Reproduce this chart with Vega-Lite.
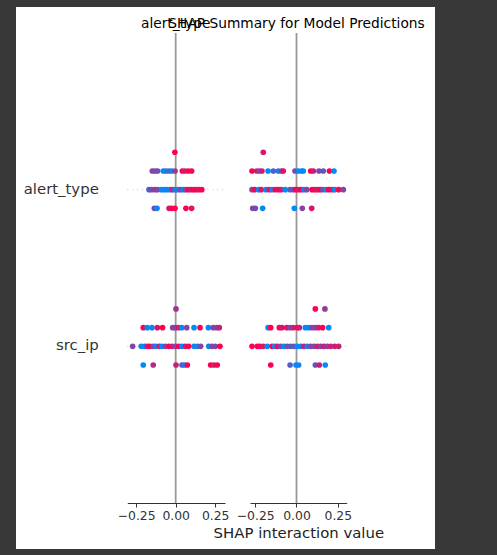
{
"$schema": "https://vega.github.io/schema/vega-lite/v6.json",
"width": 419, "height": 542,
"autosize": {"type": "none"},
"padding": {"left": 16, "top": 7, "right": 62, "bottom": 6},
"background": "#383838",
"config": {"view": {"fill": "white", "stroke": null}, "font": "DejaVu Sans", "axis": {"grid": false}},
"datasets": {
"feats": [{"feature": "alert_type"}, {"feature": "src_ip"}],
"panels": [{"col": "alert_type", "title": "alert_type"}, {"col": "src_ip", "title": "SHAP Summary for Model Predictions"}],
"pts": [
{"col":"alert_type","feature":"alert_type","lane":-2,"x":-0.005,"c":1},
{"col":"alert_type","feature":"alert_type","lane":-1,"x":-0.148,"c":0.5},
{"col":"alert_type","feature":"alert_type","lane":-1,"x":-0.131,"c":0.5},
{"col":"alert_type","feature":"alert_type","lane":-1,"x":-0.114,"c":0.45},
{"col":"alert_type","feature":"alert_type","lane":-1,"x":-0.078,"c":0},
{"col":"alert_type","feature":"alert_type","lane":-1,"x":-0.061,"c":0.1},
{"col":"alert_type","feature":"alert_type","lane":-1,"x":-0.042,"c":0.25},
{"col":"alert_type","feature":"alert_type","lane":-1,"x":-0.025,"c":0.05},
{"col":"alert_type","feature":"alert_type","lane":-1,"x":-0.004,"c":0.6},
{"col":"alert_type","feature":"alert_type","lane":-1,"x":0.042,"c":1},
{"col":"alert_type","feature":"alert_type","lane":-1,"x":0.059,"c":0.8},
{"col":"alert_type","feature":"alert_type","lane":-1,"x":0.080,"c":1},
{"col":"alert_type","feature":"alert_type","lane":-1,"x":0.101,"c":0.95},
{"col":"alert_type","feature":"alert_type","lane":0,"x":-0.169,"c":0.3},
{"col":"alert_type","feature":"alert_type","lane":0,"x":-0.152,"c":0.5},
{"col":"alert_type","feature":"alert_type","lane":0,"x":-0.131,"c":0.55},
{"col":"alert_type","feature":"alert_type","lane":0,"x":-0.114,"c":0.45},
{"col":"alert_type","feature":"alert_type","lane":0,"x":-0.089,"c":0.05},
{"col":"alert_type","feature":"alert_type","lane":0,"x":-0.072,"c":0},
{"col":"alert_type","feature":"alert_type","lane":0,"x":-0.055,"c":0.1},
{"col":"alert_type","feature":"alert_type","lane":0,"x":-0.036,"c":0},
{"col":"alert_type","feature":"alert_type","lane":0,"x":-0.021,"c":0.8},
{"col":"alert_type","feature":"alert_type","lane":0,"x":-0.004,"c":0.1},
{"col":"alert_type","feature":"alert_type","lane":0,"x":0.013,"c":0.05},
{"col":"alert_type","feature":"alert_type","lane":0,"x":0.029,"c":0.5},
{"col":"alert_type","feature":"alert_type","lane":0,"x":0.046,"c":0.1},
{"col":"alert_type","feature":"alert_type","lane":0,"x":0.063,"c":0.5},
{"col":"alert_type","feature":"alert_type","lane":0,"x":0.080,"c":1},
{"col":"alert_type","feature":"alert_type","lane":0,"x":0.097,"c":0.8},
{"col":"alert_type","feature":"alert_type","lane":0,"x":0.114,"c":1},
{"col":"alert_type","feature":"alert_type","lane":0,"x":0.130,"c":0.95},
{"col":"alert_type","feature":"alert_type","lane":0,"x":0.147,"c":0.85},
{"col":"alert_type","feature":"alert_type","lane":0,"x":0.165,"c":1},
{"col":"alert_type","feature":"alert_type","lane":1,"x":-0.135,"c":0.5},
{"col":"alert_type","feature":"alert_type","lane":1,"x":-0.118,"c":0.05},
{"col":"alert_type","feature":"alert_type","lane":1,"x":-0.042,"c":0.8},
{"col":"alert_type","feature":"alert_type","lane":1,"x":-0.025,"c":1},
{"col":"alert_type","feature":"alert_type","lane":1,"x":-0.004,"c":1},
{"col":"alert_type","feature":"alert_type","lane":1,"x":0.065,"c":1},
{"col":"alert_type","feature":"alert_type","lane":1,"x":0.101,"c":0.85},

{"col":"src_ip","feature":"alert_type","lane":-2,"x":-0.201,"c":0.85},
{"col":"src_ip","feature":"alert_type","lane":-1,"x":-0.269,"c":1},
{"col":"src_ip","feature":"alert_type","lane":-1,"x":-0.241,"c":0.8},
{"col":"src_ip","feature":"alert_type","lane":-1,"x":-0.225,"c":0.5},
{"col":"src_ip","feature":"alert_type","lane":-1,"x":-0.209,"c":0.8},
{"col":"src_ip","feature":"alert_type","lane":-1,"x":-0.172,"c":0},
{"col":"src_ip","feature":"alert_type","lane":-1,"x":-0.140,"c":0.3},
{"col":"src_ip","feature":"alert_type","lane":-1,"x":-0.110,"c":0.1},
{"col":"src_ip","feature":"alert_type","lane":-1,"x":-0.090,"c":0.6},
{"col":"src_ip","feature":"alert_type","lane":-1,"x":-0.080,"c":0.9},
{"col":"src_ip","feature":"alert_type","lane":-1,"x":-0.009,"c":0.5},
{"col":"src_ip","feature":"alert_type","lane":-1,"x":0.011,"c":0},
{"col":"src_ip","feature":"alert_type","lane":-1,"x":0.031,"c":0.05},
{"col":"src_ip","feature":"alert_type","lane":-1,"x":0.041,"c":0},
{"col":"src_ip","feature":"alert_type","lane":-1,"x":0.086,"c":1},
{"col":"src_ip","feature":"alert_type","lane":-1,"x":0.102,"c":0.8},
{"col":"src_ip","feature":"alert_type","lane":-1,"x":0.136,"c":0.5},
{"col":"src_ip","feature":"alert_type","lane":-1,"x":0.162,"c":0.35},
{"col":"src_ip","feature":"alert_type","lane":-1,"x":0.199,"c":1},
{"col":"src_ip","feature":"alert_type","lane":-1,"x":0.227,"c":0},
{"col":"src_ip","feature":"alert_type","lane":0,"x":-0.269,"c":0.5},
{"col":"src_ip","feature":"alert_type","lane":0,"x":-0.253,"c":1},
{"col":"src_ip","feature":"alert_type","lane":0,"x":-0.229,"c":0},
{"col":"src_ip","feature":"alert_type","lane":0,"x":-0.213,"c":0.85},
{"col":"src_ip","feature":"alert_type","lane":0,"x":-0.185,"c":0},
{"col":"src_ip","feature":"alert_type","lane":0,"x":-0.165,"c":0.9},
{"col":"src_ip","feature":"alert_type","lane":0,"x":-0.148,"c":0.05},
{"col":"src_ip","feature":"alert_type","lane":0,"x":-0.128,"c":1},
{"col":"src_ip","feature":"alert_type","lane":0,"x":-0.108,"c":0.95},
{"col":"src_ip","feature":"alert_type","lane":0,"x":-0.092,"c":0.8},
{"col":"src_ip","feature":"alert_type","lane":0,"x":-0.068,"c":0},
{"col":"src_ip","feature":"alert_type","lane":0,"x":-0.039,"c":0.3},
{"col":"src_ip","feature":"alert_type","lane":0,"x":-0.019,"c":0.5},
{"col":"src_ip","feature":"alert_type","lane":0,"x":-0.003,"c":1},
{"col":"src_ip","feature":"alert_type","lane":0,"x":0.013,"c":0.8},
{"col":"src_ip","feature":"alert_type","lane":0,"x":0.029,"c":1},
{"col":"src_ip","feature":"alert_type","lane":0,"x":0.045,"c":0.05},
{"col":"src_ip","feature":"alert_type","lane":0,"x":0.062,"c":0.5},
{"col":"src_ip","feature":"alert_type","lane":0,"x":0.094,"c":1},
{"col":"src_ip","feature":"alert_type","lane":0,"x":0.110,"c":1},
{"col":"src_ip","feature":"alert_type","lane":0,"x":0.126,"c":0.8},
{"col":"src_ip","feature":"alert_type","lane":0,"x":0.142,"c":1},
{"col":"src_ip","feature":"alert_type","lane":0,"x":0.158,"c":0.5},
{"col":"src_ip","feature":"alert_type","lane":0,"x":0.178,"c":0},
{"col":"src_ip","feature":"alert_type","lane":0,"x":0.195,"c":1},
{"col":"src_ip","feature":"alert_type","lane":0,"x":0.215,"c":0.9},
{"col":"src_ip","feature":"alert_type","lane":0,"x":0.231,"c":0.05},
{"col":"src_ip","feature":"alert_type","lane":0,"x":0.255,"c":1},
{"col":"src_ip","feature":"alert_type","lane":0,"x":0.283,"c":0.5},
{"col":"src_ip","feature":"alert_type","lane":1,"x":-0.265,"c":0.5},
{"col":"src_ip","feature":"alert_type","lane":1,"x":-0.249,"c":0.45},
{"col":"src_ip","feature":"alert_type","lane":1,"x":-0.205,"c":0},
{"col":"src_ip","feature":"alert_type","lane":1,"x":-0.013,"c":0},
{"col":"src_ip","feature":"alert_type","lane":1,"x":0.035,"c":0.5},
{"col":"src_ip","feature":"alert_type","lane":1,"x":0.092,"c":0.85},

{"col":"alert_type","feature":"src_ip","lane":-2,"x":0.002,"c":0.6},
{"col":"alert_type","feature":"src_ip","lane":-1,"x":-0.205,"c":1},
{"col":"alert_type","feature":"src_ip","lane":-1,"x":-0.180,"c":0},
{"col":"alert_type","feature":"src_ip","lane":-1,"x":-0.150,"c":0.05},
{"col":"alert_type","feature":"src_ip","lane":-1,"x":-0.116,"c":0.85},
{"col":"alert_type","feature":"src_ip","lane":-1,"x":-0.083,"c":1},
{"col":"alert_type","feature":"src_ip","lane":-1,"x":-0.019,"c":0.5},
{"col":"alert_type","feature":"src_ip","lane":-1,"x":-0.002,"c":0.55},
{"col":"alert_type","feature":"src_ip","lane":-1,"x":0.017,"c":0.8},
{"col":"alert_type","feature":"src_ip","lane":-1,"x":0.038,"c":0.05},
{"col":"alert_type","feature":"src_ip","lane":-1,"x":0.070,"c":0.5},
{"col":"alert_type","feature":"src_ip","lane":-1,"x":0.116,"c":0},
{"col":"alert_type","feature":"src_ip","lane":-1,"x":0.154,"c":1},
{"col":"alert_type","feature":"src_ip","lane":-1,"x":0.207,"c":0},
{"col":"alert_type","feature":"src_ip","lane":-1,"x":0.238,"c":0.5},
{"col":"alert_type","feature":"src_ip","lane":-1,"x":0.259,"c":0.55},
{"col":"alert_type","feature":"src_ip","lane":-1,"x":0.276,"c":0.75},
{"col":"alert_type","feature":"src_ip","lane":0,"x":-0.272,"c":0.5},
{"col":"alert_type","feature":"src_ip","lane":0,"x":-0.218,"c":0},
{"col":"alert_type","feature":"src_ip","lane":0,"x":-0.196,"c":0.05},
{"col":"alert_type","feature":"src_ip","lane":0,"x":-0.180,"c":0.8},
{"col":"alert_type","feature":"src_ip","lane":0,"x":-0.163,"c":1},
{"col":"alert_type","feature":"src_ip","lane":0,"x":-0.142,"c":0.5},
{"col":"alert_type","feature":"src_ip","lane":0,"x":-0.125,"c":0.05},
{"col":"alert_type","feature":"src_ip","lane":0,"x":-0.104,"c":0.8},
{"col":"alert_type","feature":"src_ip","lane":0,"x":-0.087,"c":0},
{"col":"alert_type","feature":"src_ip","lane":0,"x":-0.066,"c":0.5},
{"col":"alert_type","feature":"src_ip","lane":0,"x":-0.044,"c":1},
{"col":"alert_type","feature":"src_ip","lane":0,"x":-0.023,"c":0.8},
{"col":"alert_type","feature":"src_ip","lane":0,"x":-0.002,"c":0.5},
{"col":"alert_type","feature":"src_ip","lane":0,"x":0.019,"c":1},
{"col":"alert_type","feature":"src_ip","lane":0,"x":0.040,"c":0},
{"col":"alert_type","feature":"src_ip","lane":0,"x":0.061,"c":0.8},
{"col":"alert_type","feature":"src_ip","lane":0,"x":0.082,"c":1},
{"col":"alert_type","feature":"src_ip","lane":0,"x":0.116,"c":0.05},
{"col":"alert_type","feature":"src_ip","lane":0,"x":0.137,"c":0.1},
{"col":"alert_type","feature":"src_ip","lane":0,"x":0.158,"c":0.5},
{"col":"alert_type","feature":"src_ip","lane":0,"x":0.209,"c":0},
{"col":"alert_type","feature":"src_ip","lane":0,"x":0.230,"c":0.5},
{"col":"alert_type","feature":"src_ip","lane":0,"x":0.251,"c":0.5},
{"col":"alert_type","feature":"src_ip","lane":0,"x":0.280,"c":1},
{"col":"alert_type","feature":"src_ip","lane":1,"x":-0.205,"c":0},
{"col":"alert_type","feature":"src_ip","lane":1,"x":-0.142,"c":0.7},
{"col":"alert_type","feature":"src_ip","lane":1,"x":0.002,"c":0.75},
{"col":"alert_type","feature":"src_ip","lane":1,"x":0.040,"c":0.3},
{"col":"alert_type","feature":"src_ip","lane":1,"x":0.057,"c":0.1},
{"col":"alert_type","feature":"src_ip","lane":1,"x":0.074,"c":1},
{"col":"alert_type","feature":"src_ip","lane":1,"x":0.221,"c":1},
{"col":"alert_type","feature":"src_ip","lane":1,"x":0.242,"c":0.8},
{"col":"alert_type","feature":"src_ip","lane":1,"x":0.263,"c":1},

{"col":"src_ip","feature":"src_ip","lane":-2,"x":0.114,"c":1},
{"col":"src_ip","feature":"src_ip","lane":-2,"x":0.172,"c":0.6},
{"col":"src_ip","feature":"src_ip","lane":-1,"x":-0.172,"c":0},
{"col":"src_ip","feature":"src_ip","lane":-1,"x":-0.156,"c":1},
{"col":"src_ip","feature":"src_ip","lane":-1,"x":-0.104,"c":1},
{"col":"src_ip","feature":"src_ip","lane":-1,"x":-0.088,"c":0.85},
{"col":"src_ip","feature":"src_ip","lane":-1,"x":-0.059,"c":0.85},
{"col":"src_ip","feature":"src_ip","lane":-1,"x":-0.039,"c":0.5},
{"col":"src_ip","feature":"src_ip","lane":-1,"x":-0.019,"c":0.8},
{"col":"src_ip","feature":"src_ip","lane":-1,"x":0.005,"c":1},
{"col":"src_ip","feature":"src_ip","lane":-1,"x":0.017,"c":0.8},
{"col":"src_ip","feature":"src_ip","lane":-1,"x":0.053,"c":0},
{"col":"src_ip","feature":"src_ip","lane":-1,"x":0.074,"c":0.05},
{"col":"src_ip","feature":"src_ip","lane":-1,"x":0.094,"c":0.5},
{"col":"src_ip","feature":"src_ip","lane":-1,"x":0.114,"c":0.5},
{"col":"src_ip","feature":"src_ip","lane":-1,"x":0.134,"c":0.8},
{"col":"src_ip","feature":"src_ip","lane":-1,"x":0.158,"c":1},
{"col":"src_ip","feature":"src_ip","lane":-1,"x":0.195,"c":0},
{"col":"src_ip","feature":"src_ip","lane":0,"x":-0.269,"c":1},
{"col":"src_ip","feature":"src_ip","lane":0,"x":-0.237,"c":1},
{"col":"src_ip","feature":"src_ip","lane":0,"x":-0.221,"c":1},
{"col":"src_ip","feature":"src_ip","lane":0,"x":-0.201,"c":0.85},
{"col":"src_ip","feature":"src_ip","lane":0,"x":-0.177,"c":0},
{"col":"src_ip","feature":"src_ip","lane":0,"x":-0.148,"c":1},
{"col":"src_ip","feature":"src_ip","lane":0,"x":-0.132,"c":0},
{"col":"src_ip","feature":"src_ip","lane":0,"x":-0.116,"c":0.85},
{"col":"src_ip","feature":"src_ip","lane":0,"x":-0.096,"c":0.5},
{"col":"src_ip","feature":"src_ip","lane":0,"x":-0.076,"c":0},
{"col":"src_ip","feature":"src_ip","lane":0,"x":-0.056,"c":0.45},
{"col":"src_ip","feature":"src_ip","lane":0,"x":-0.035,"c":0.4},
{"col":"src_ip","feature":"src_ip","lane":0,"x":-0.015,"c":0.4},
{"col":"src_ip","feature":"src_ip","lane":0,"x":0.005,"c":0},
{"col":"src_ip","feature":"src_ip","lane":0,"x":0.025,"c":0.05},
{"col":"src_ip","feature":"src_ip","lane":0,"x":0.045,"c":0.8},
{"col":"src_ip","feature":"src_ip","lane":0,"x":0.065,"c":0.1},
{"col":"src_ip","feature":"src_ip","lane":0,"x":0.086,"c":0.5},
{"col":"src_ip","feature":"src_ip","lane":0,"x":0.106,"c":0.5},
{"col":"src_ip","feature":"src_ip","lane":0,"x":0.126,"c":0.8},
{"col":"src_ip","feature":"src_ip","lane":0,"x":0.146,"c":0.5},
{"col":"src_ip","feature":"src_ip","lane":0,"x":0.166,"c":0.8},
{"col":"src_ip","feature":"src_ip","lane":0,"x":0.186,"c":0.55},
{"col":"src_ip","feature":"src_ip","lane":0,"x":0.207,"c":0.8},
{"col":"src_ip","feature":"src_ip","lane":0,"x":0.231,"c":0.8},
{"col":"src_ip","feature":"src_ip","lane":0,"x":0.255,"c":0.8},
{"col":"src_ip","feature":"src_ip","lane":1,"x":-0.156,"c":1},
{"col":"src_ip","feature":"src_ip","lane":1,"x":-0.039,"c":0.3},
{"col":"src_ip","feature":"src_ip","lane":1,"x":-0.003,"c":0},
{"col":"src_ip","feature":"src_ip","lane":1,"x":0.013,"c":0.05},
{"col":"src_ip","feature":"src_ip","lane":1,"x":0.114,"c":0.4},
{"col":"src_ip","feature":"src_ip","lane":1,"x":0.138,"c":0.8},
{"col":"src_ip","feature":"src_ip","lane":1,"x":0.174,"c":0}
]
},
"layer": [
{"data": {"name": "feats"}, "mark": {"type": "rule", "color": "#c8c8c8", "strokeDash": [1, 4], "strokeWidth": 1},
 "encoding": {
  "y": {"field": "feature", "type": "nominal", "axis": null, "scale": {"domain": ["alert_type", "src_ip"], "range": [26, 496], "paddingInner": 0, "paddingOuter": 0.5}},
  "x": {"datum": -0.306, "type": "quantitative", "axis": null, "scale": {"domain": [-0.306, 0.312], "range": [111.3, 209], "nice": false, "zero": false}},
  "x2": {"datum": 0.312}}},
{"data": {"name": "feats"}, "mark": {"type": "rule", "color": "#c8c8c8", "strokeDash": [1, 4], "strokeWidth": 1},
 "encoding": {
  "y": {"field": "feature", "type": "nominal", "axis": null, "scale": {"domain": ["alert_type", "src_ip"], "range": [26, 496], "paddingInner": 0, "paddingOuter": 0.5}},
  "x": {"datum": -0.2813, "type": "quantitative", "axis": null, "scale": {"domain": [-0.2813, 0.3037], "range": [234, 330.7], "nice": false, "zero": false}},
  "x2": {"datum": 0.3037}}},
{"data": {"name": "panels"}, "transform": [{"filter": "datum.col == 'alert_type'"}], "mark": {"type": "rule", "color": "#999999", "strokeWidth": 1.8},
 "encoding": {
  "x": {"datum": 0, "type": "quantitative", "axis": null, "scale": {"domain": [-0.306, 0.312], "range": [111.3, 209], "nice": false, "zero": false}},
  "y": {"datum": 0, "type": "quantitative", "axis": null, "scale": {"domain": [0, 1], "range": [496, 26], "nice": false, "zero": false}},
  "y2": {"datum": 1}}},
{"data": {"name": "panels"}, "transform": [{"filter": "datum.col == 'src_ip'"}], "mark": {"type": "rule", "color": "#999999", "strokeWidth": 1.8},
 "encoding": {
  "x": {"datum": 0, "type": "quantitative", "axis": null, "scale": {"domain": [-0.2813, 0.3037], "range": [234, 330.7], "nice": false, "zero": false}},
  "y": {"datum": 0, "type": "quantitative", "axis": null, "scale": {"domain": [0, 1], "range": [496, 26], "nice": false, "zero": false}},
  "y2": {"datum": 1}}},
{"data": {"name": "pts"}, "transform": [{"filter": "datum.col == 'alert_type'"}],
 "mark": {"type": "circle", "size": 32, "opacity": 1},
 "encoding": {
  "x": {"field": "x", "type": "quantitative", "scale": {"domain": [-0.306, 0.312], "range": [111.3, 209], "nice": false, "zero": false},
   "axis": {"title": null, "orient": "bottom", "values": [-0.25, 0, 0.25], "format": ".2f", "offset": -46, "domainColor": "#333333", "domainWidth": 1, "tickColor": "#333333", "tickSize": 4, "labelFontSize": 12.4, "labelColor": "#333333", "labelPadding": 2, "labelFlush": false, "labelOverlap": false}},
  "y": {"field": "feature", "type": "nominal", "scale": {"domain": ["alert_type", "src_ip"], "range": [26, 496], "paddingInner": 0, "paddingOuter": 0.5},
   "axis": {"title": null, "orient": "left", "domain": false, "ticks": false, "offset": -111.3, "labelPadding": 29, "labelFontSize": 14.9, "labelColor": "#333333"}},
  "yOffset": {"field": "lane", "type": "quantitative", "scale": {"domain": [-4.19, 4.19], "nice": false, "zero": false}},
  "color": {"field": "c", "type": "quantitative", "scale": {"domain": [0, 1], "range": ["#008bfb", "#ff0051"], "interpolate": "rgb"}, "legend": null}
 }},
{"data": {"name": "pts"}, "transform": [{"filter": "datum.col == 'src_ip'"}],
 "mark": {"type": "circle", "size": 32, "opacity": 1},
 "encoding": {
  "x": {"field": "x", "type": "quantitative", "scale": {"domain": [-0.2813, 0.3037], "range": [234, 330.7], "nice": false, "zero": false},
   "axis": {"title": "SHAP interaction value", "orient": "bottom", "values": [-0.25, 0, 0.25], "format": ".2f", "offset": -46, "domainColor": "#333333", "domainWidth": 1, "tickColor": "#333333", "tickSize": 4, "labelFontSize": 12.4, "labelColor": "#333333", "labelPadding": 2, "labelFlush": false, "labelOverlap": false, "titleFontSize": 14.9, "titleFontWeight": "normal", "titleColor": "#222222", "titlePadding": 4}},
  "y": {"field": "feature", "type": "nominal", "axis": null, "scale": {"domain": ["alert_type", "src_ip"], "range": [26, 496], "paddingInner": 0, "paddingOuter": 0.5}},
  "yOffset": {"field": "lane", "type": "quantitative", "scale": {"domain": [-4.19, 4.19], "nice": false, "zero": false}},
  "color": {"field": "c", "type": "quantitative", "scale": {"domain": [0, 1], "range": ["#008bfb", "#ff0051"], "interpolate": "rgb"}, "legend": null}
 }},
{"data": {"name": "panels"}, "transform": [{"filter": "datum.col == 'alert_type'"}], "mark": {"type": "text", "fontSize": 13.75, "baseline": "alphabetic", "dy": -5.5, "color": "#000000"},
 "encoding": {
  "x": {"datum": 0, "type": "quantitative", "axis": null, "scale": {"domain": [-0.306, 0.312], "range": [111.3, 209], "nice": false, "zero": false}},
  "y": {"datum": 1, "type": "quantitative", "axis": null, "scale": {"domain": [0, 1], "range": [496, 26], "nice": false, "zero": false}},
  "text": {"field": "title"}}},
{"data": {"name": "panels"}, "transform": [{"filter": "datum.col == 'src_ip'"}], "mark": {"type": "text", "fontSize": 13.75, "baseline": "alphabetic", "dy": -5.5, "color": "#000000"},
 "encoding": {
  "x": {"datum": 0, "type": "quantitative", "axis": null, "scale": {"domain": [-0.2813, 0.3037], "range": [234, 330.7], "nice": false, "zero": false}},
  "y": {"datum": 1, "type": "quantitative", "axis": null, "scale": {"domain": [0, 1], "range": [496, 26], "nice": false, "zero": false}},
  "text": {"field": "title"}}}
],
"resolve": {"scale": {"x": "independent", "y": "independent", "yOffset": "independent"}, "axis": {"x": "independent", "y": "independent"}}
}
